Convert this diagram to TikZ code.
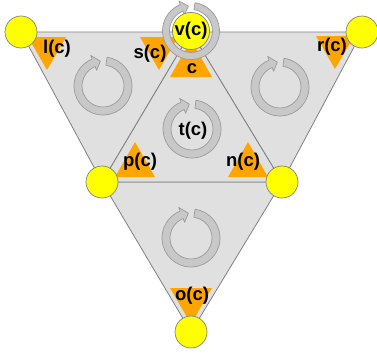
\documentclass[tikz,border=0pt]{standalone}
\usepackage{fontspec}
\setmainfont{Liberation Sans}
\definecolor{facegray}{HTML}{E0E0E0}
\definecolor{edgegray}{HTML}{808080}
\definecolor{ringgray}{HTML}{C8C8C8}
\definecolor{ringedge}{HTML}{9A9A9A}
\definecolor{orng}{HTML}{FFA500}
\definecolor{yel}{HTML}{FFFF00}
\begin{document}
\begin{tikzpicture}[x=1pt,y=-1pt,
  face/.style={fill=facegray, draw=edgegray, line width=0.8pt, line join=round},
  corner/.style={fill=orng},
  lbl/.style={font=\fontsize{18.5}{20}\selectfont\bfseries, inner sep=0pt},
  vert/.style={circle, fill=yel, draw=edgegray, line width=0.7pt, minimum size=32pt, inner sep=0pt},
  ring/.style={fill=ringgray, draw=ringedge, line width=0.7pt, line join=round},
  pics/carrow/.style 2 args={code={
    \path[ring] (82:#1pt) -- (82:#2pt)
      arc[start angle=82, end angle=-248, radius=#2pt]
      -- (112:{#2pt+4pt}) -- (96:{(#1pt+#2pt)/2}) -- (112:{#1pt-4pt})
      -- (112:#1pt)
      arc[start angle=-248, end angle=82, radius=#1pt] -- cycle;
  }}]
\useasboundingbox (0,0) rectangle (377,354);
\coordinate (TL) at (21,32);
\coordinate (TM) at (191,32);
\coordinate (TR) at (362,32);
\coordinate (ML) at (102,182);
\coordinate (MR) at (282,182);
\coordinate (B) at (191,332);
% faces
\draw[face] (TL) -- (TM) -- (ML) -- cycle;
\draw[face] (TM) -- (TR) -- (MR) -- cycle;
\draw[face] (ML) -- (MR) -- (B) -- cycle;
\draw[face] (TM) -- (MR) -- (ML) -- cycle;
% orange corner triangles
\fill[corner] (28,37) -- (66,37) -- (47,70) -- cycle;
\fill[corner] (140,37) -- (178,37) -- (159,70) -- cycle;
\fill[corner] (316,36) -- (354,36) -- (335,69) -- cycle;
\fill[corner] (170,77) -- (212,77) -- (191,40) -- cycle;
\fill[corner] (115,177) -- (155,177) -- (135,142) -- cycle;
\fill[corner] (228,177) -- (268,177) -- (248,142) -- cycle;
\fill[corner] (170,288) -- (212,288) -- (191,324) -- cycle;
% circular arrows
\pic at (103,86) {carrow={21}{29}};
\pic at (280,87) {carrow={21}{29}};
\pic at (192,129) {carrow={21}{29}};
\pic at (191,238) {carrow={21}{29}};
% labels
\node[lbl] (lc) at (57,49) {l(c)};
\node[lbl] (sc) at (150,54) {s(c)};
\node[lbl] (rc) at (332,47) {r(c)};
\node[lbl] (cc) at (192,69) {c};
\node[lbl] (tc) at (193,131) {t(c)};
\node[lbl] (pc) at (140,162) {p(c)};
\node[lbl] (nc) at (243,162) {n(c)};
\node[lbl] (oc) at (192,296) {o(c)};
% ring around v(c)
\pic at (191,31) {carrow={21.5}{28.5}};
% vertex circles
\node[vert] (vTL) at (TL) {};
\node[vert] (vTR) at (TR) {};
\node[vert] (vML) at (ML) {};
\node[vert] (vMR) at (MR) {};
\node[vert] (vB) at (B) {};
\node[vert, minimum size=35pt, lbl] (vTM) at (191,31) {v(c)};
\end{tikzpicture}
\end{document}
